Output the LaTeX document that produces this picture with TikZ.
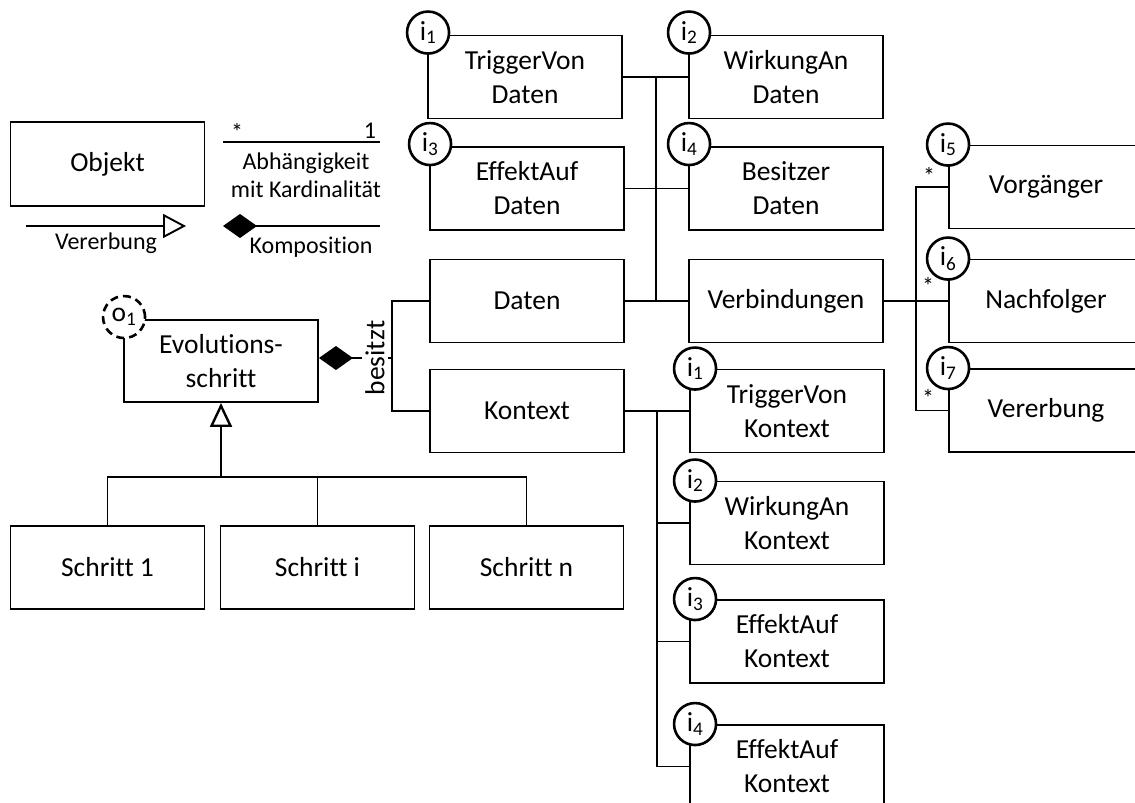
\documentclass[tikz,border=0pt]{standalone}
\usepackage{fontspec}
\setmainfont{Carlito}[Ligatures=CommonOff]
\usetikzlibrary{arrows.meta,calc}
\begin{document}
\begin{tikzpicture}[x=1pt,y=-1pt,
  line width=1.9pt,
  every node/.style={font=\fontsize{27.5}{34}\selectfont},
  box/.style={draw, rectangle, minimum width=194pt, minimum height=83pt, inner sep=0pt, align=center},
  tag/.style={draw, circle, fill=white, line width=2.6pt, minimum size=42pt, inner sep=0pt},
  optag/.style={tag, dash pattern=on 8pt off 5pt},
  small/.style={font=\fontsize{24}{28}\selectfont, inner sep=0pt},
  mult/.style={font=\fontsize{24}{24}\selectfont, inner sep=0pt},
  comp/.style={{Diamond[length=34pt,width=24pt]}-},
  inh/.style={-{Triangle[open,length=23pt,width=24pt]}},
]
\useasboundingbox (0,0) rectangle (1135,803);

% ---------- legend ----------
\node[box, minimum height=84pt] (objekt) at (107.5,164) {Objekt};

\coordinate (depA) at (223,142);
\coordinate (depB) at (380,142);
\draw (depA) -- (depB);
\node[small] (depM) at (237,132) {*};
\node[small] (depO) at (370,131) {1};
\node[small, align=center] (depT) at (306,175) {Abhängigkeit\\mit Kardinalität};

\coordinate (inhA) at (26,226);
\coordinate (inhB) at (186,226);
\draw[inh] (inhA) -- (inhB);
\node[small] (inhT) at (106,243) {Vererbung};

\coordinate (cmpA) at (223,226);
\coordinate (cmpB) at (380,226);
\draw[comp] (cmpA) -- (cmpB);
\node[small] (cmpT) at (311,247) {Komposition};

% ---------- evolution step and its specialisations ----------
\node[box, minimum height=82pt] (evo) at (221,361) {Evolutions-\\schritt};
\node[box] (s1) at (107.5,567.5) {Schritt 1};
\node[box] (si) at (317.5,567.5) {Schritt i};
\node[box] (sn) at (526.5,567.5) {Schritt n};

\coordinate (trunk) at (221,477);
\draw[{Triangle[open,length=24pt,width=22pt]}-, line width=2.4pt] (evo.south) -- (trunk);
\draw (s1.north) |- (trunk) -| (sn.north);
\draw (si.north) -- (si.north |- trunk);

% ---------- data part ----------
\node[box] (tvd) at (525,77) {TriggerVon\\Daten};
\node[box] (wad) at (786,77) {WirkungAn\\Daten};
\node[box] (ead) at (527,188.5) {EffektAuf\\Daten};
\node[box] (bsd) at (786,188.5) {Besitzer\\Daten};
\node[box] (daten) at (527,301) {Daten};
\node[box] (verb) at (786,301) {Verbindungen};

\coordinate (busD) at (656,0);
\draw (tvd.east) -- (wad.west);
\draw (ead.east) -- (bsd.west);
\draw (daten.east) -- (verb.west);
\draw (busD |- tvd.east) -- (busD |- daten.east);

% ---------- links ----------
\node[box] (vorg) at (1046,187) {Vorgänger};
\node[box] (nachf) at (1046,301) {Nachfolger};
\node[box] (vererb) at (1046,410.5) {Vererbung};

\coordinate (busV) at (916,0);
\draw (verb.east) -- (nachf.west);
\draw (vorg.west) -- (busV |- vorg.west) -- (busV |- vererb.west) -- (vererb.west);
\node[mult] (m5) at (929,176) {*};
\node[mult] (m6) at (928,286) {*};
\node[mult] (m7) at (928,398) {*};

% ---------- context part ----------
\node[box] (kontext) at (527,411) {Kontext};
\node[box] (tvk) at (787,411) {TriggerVon\\Kontext};
\node[box] (wak) at (787,523) {WirkungAn\\Kontext};
\node[box] (eak1) at (787,641.5) {EffektAuf\\Kontext};
\node[box] (eak2) at (787,766.5) {EffektAuf\\Kontext};

\coordinate (busK) at (657,0);
\draw (kontext.east) -- (tvk.west);
\draw (busK |- tvk.west) -- (busK |- eak2.west) -- (eak2.west);
\draw (busK |- wak.west) -- (wak.west);
\draw (busK |- eak1.west) -- (eak1.west);

% ---------- composition ----------
\coordinate (brk) at (392,358);
\draw[comp] (evo.east |- brk) -- (brk);
\draw (daten.west) -| (brk) |- (kontext.west);
\node[rotate=90, fill=white, inner sep=3pt] (besitzt) at (375,358) {besitzt};

% ---------- interface and object tags ----------
\node[optag] (o1) at ($(evo.north west)+(1,-2)$) {o\textsubscript{1}};
\node[tag] (ti1) at ($(tvd.north west)+(1,-2)$) {i\textsubscript{1}};
\node[tag] (ti2) at ($(wad.north west)+(1,-2)$) {i\textsubscript{2}};
\node[tag] (ti3) at ($(ead.north west)+(1,-2)$) {i\textsubscript{3}};
\node[tag] (ti4) at ($(bsd.north west)+(1,-2)$) {i\textsubscript{4}};
\node[tag] (ti5) at (vorg.north west) {i\textsubscript{5}};
\node[tag] (ti6) at (nachf.north west) {i\textsubscript{6}};
\node[tag] (ti7) at (vererb.north west) {i\textsubscript{7}};
\node[tag] (tk1) at ($(tvk.north west)+(6,0)$) {i\textsubscript{1}};
\node[tag] (tk2) at ($(wak.north west)+(6,0)$) {i\textsubscript{2}};
\node[tag] (tk3) at ($(eak1.north west)+(6,0)$) {i\textsubscript{3}};
\node[tag] (tk4) at ($(eak2.north west)+(6,0)$) {i\textsubscript{4}};
\end{tikzpicture}
\end{document}
